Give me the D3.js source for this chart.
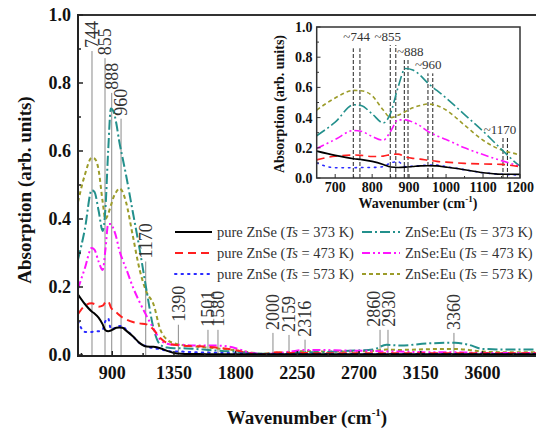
<!DOCTYPE html>
<html><head><meta charset="utf-8">
<script src="https://cdn.jsdelivr.net/npm/d3@7/dist/d3.min.js"></script>
<style>body{margin:0;background:#fff}svg{display:block}text{font-family:"Liberation Serif","DejaVu Serif",serif}</style>
</head><body><svg id="c" width="536" height="431"></svg>
<script>
// ---------------- DATA ----------------
const wavenumbers = [650,700,750,770,800,830,850,870,890,910,930,950,975,1000,1050,1100,1150,1200,1250,1300,1350,1400,1500,1600,1700,1800,1900,2000,2100,2200,2300,2400,2600,2800,2900,3000,3200,3400,3500,3600,3800,4000];
const pure373 = [0.178,0.150,0.128,0.122,0.110,0.090,0.073,0.070,0.072,0.076,0.080,0.081,0.080,0.072,0.055,0.035,0.025,0.024,0.020,0.012,0.006,0.004,0.003,0.002,0.002,0.002,0.002,0.002,0.002,0.002,0.002,0.002,0.002,0.002,0.002,0.002,0.002,0.002,0.002,0.002,0.002,0.002];
const pure473 = [0.120,0.145,0.152,0.150,0.142,0.145,0.155,0.158,0.140,0.130,0.125,0.118,0.110,0.105,0.097,0.093,0.090,0.075,0.050,0.035,0.030,0.028,0.026,0.024,0.020,0.014,0.005,0.002,0.008,0.006,0.006,0.005,0.005,0.005,0.005,0.005,0.005,0.005,0.005,0.005,0.005,0.005];
const pure573 = [0.100,0.068,0.068,0.070,0.070,0.075,0.100,0.108,0.075,0.078,0.082,0.085,0.085,0.075,0.055,0.035,0.025,0.020,0.017,0.012,0.010,0.010,0.008,0.007,0.006,0.005,0.004,0.003,0.003,0.003,0.003,0.003,0.003,0.003,0.003,0.003,0.003,0.003,0.003,0.003,0.003,0.003];
const eu373 = [0.280,0.370,0.485,0.480,0.425,0.365,0.430,0.600,0.725,0.715,0.680,0.630,0.580,0.530,0.420,0.310,0.190,0.080,0.030,0.022,0.020,0.020,0.018,0.015,0.012,0.010,0.006,0.004,0.005,0.006,0.008,0.008,0.012,0.016,0.030,0.028,0.034,0.036,0.030,0.018,0.016,0.016];
const eu473 = [0.195,0.255,0.315,0.310,0.275,0.250,0.310,0.385,0.385,0.370,0.345,0.310,0.280,0.255,0.200,0.155,0.115,0.078,0.045,0.033,0.030,0.030,0.028,0.028,0.027,0.020,0.007,0.003,0.005,0.010,0.015,0.015,0.013,0.012,0.010,0.010,0.008,0.008,0.007,0.006,0.006,0.006];
const eu573 = [0.450,0.530,0.580,0.578,0.545,0.450,0.400,0.415,0.440,0.465,0.480,0.490,0.480,0.450,0.350,0.250,0.185,0.150,0.075,0.045,0.035,0.030,0.025,0.022,0.018,0.014,0.008,0.004,0.006,0.008,0.012,0.010,0.010,0.012,0.016,0.015,0.017,0.018,0.015,0.010,0.008,0.008];

const seriesNames = ["pure ZnSe","pure ZnSe","pure ZnSe","ZnSe:Eu","ZnSe:Eu","ZnSe:Eu"];
const seriesTemps = ["373 K","473 K","573 K","373 K","473 K","573 K"];
const seriesValues = [pure373,pure473,pure573,eu373,eu473,eu573];

const yTicks = [0,0.2,0.4,0.6,0.8,1.0];
const yMinorTicks = [0.1,0.3,0.5,0.7,0.9];
const xTicksMain = [900,1350,1800,2250,2700,3150,3600];
const xMinorMain = [675,1125,1575,2025,2475,2925,3375,3825];
const xTicksInset = [700,800,900,1000,1100,1200];
const xMinorInset = [750,850,950,1050,1150];

// main-plot peak annotations (label, drawn position, top of marker line)
const peakLabels = ["744","855","888","960","1170","1390","1501","1580","2000","2159","2316","2860","2930","3360"];
const peakPos = [752,847,896,964,1144,1382,1598,1671,2072,2189,2306,2853,2911,3392];
const peakTop = [0.894,0.873,0.771,0.695,0.275,0.089,0.074,0.074,0.065,0.059,0.045,0.074,0.074,0.065];

// inset peak annotations
const insetLabels = ["~744","~855","~888","~960","~1170"];
const insetLabelPos = [758,842,903,952,1146];
const insetLabelY = [0.905,0.91,0.81,0.72,0.29];
const insetLines = [[749,767],[849,864],[887,897],[951,964],[1154,1166]];
const insetLineTop = [0.859,0.88,0.793,0.693,0.273];

// ---------------- STYLE ----------------
const colors = ["#000000","#ff1f1f","#2a2aff","#23908c","#ff14ff","#9c9c2a"];
const dashes = [null,"8,5","1.5,5","10,3,2,3","8,3,2,3,2,3","4,3"];
const labelShift = [0,0,0,0,0,0,0,0,0,0,0,-6,1,0];   // px nudge of crowded peak labels

const svg = d3.select("#c");
svg.append("rect").attr("width",536).attr("height",431).attr("fill","#fff");

// ---------------- MAIN PLOT ----------------
const x = d3.scaleLinear().domain([650,4000]).range([78,537.3]);
const y = d3.scaleLinear().domain([0,1]).range([355,15]);

const defs = svg.append("defs");
defs.append("clipPath").attr("id","mainclip").append("rect")
  .attr("x",78).attr("y",15).attr("width",470).attr("height",342);

const main = svg.append("g");
const gm = main.append("g").attr("clip-path","url(#mainclip)");

peakPos.forEach((p,i)=>{
  gm.append("line").attr("x1",x(p)).attr("x2",x(p)).attr("y1",y(0)).attr("y2",y(peakTop[i]))
    .attr("stroke","#8a8a8a").attr("stroke-width",1);
});

const line = (sx,sy)=>d3.line().x((d,i)=>sx(wavenumbers[i])).y(d=>sy(d)).curve(d3.curveMonotoneX);
const lm = line(x,y);
const drawOrder = [5,3,4,1,2,0];
drawOrder.forEach(k=>{
  gm.append("path").attr("d",lm(seriesValues[k])).attr("fill","none")
    .attr("stroke",colors[k]).attr("stroke-width",2)
    .attr("stroke-dasharray",dashes[k]).attr("stroke-linecap", k===2?"round":"butt");
});

peakPos.forEach((p,i)=>{
  const px = x(p) + labelShift[i], py = y(peakTop[i]) - 3;
  main.append("text").attr("transform",`translate(${px},${py}) rotate(-90)`)
    .attr("dy","0.35em").attr("font-size",18).attr("fill","#333")
    .text(peakLabels[i]);
});

main.append("line").attr("x1",78).attr("x2",540).attr("y1",15).attr("y2",15).attr("stroke","#333").attr("stroke-width",2);
main.append("line").attr("x1",78).attr("x2",78).attr("y1",14).attr("y2",357).attr("stroke","#222").attr("stroke-width",2);
main.append("line").attr("x1",77).attr("x2",540).attr("y1",356).attr("y2",356).attr("stroke","#222").attr("stroke-width",2);

yTicks.forEach(t=>{
  main.append("line").attr("x1",78).attr("x2",83).attr("y1",y(t)).attr("y2",y(t)).attr("stroke","#222").attr("stroke-width",1.5);
  main.append("text").attr("x",71).attr("y",y(t)).attr("dy","0.35em").attr("text-anchor","end")
    .attr("font-weight","bold").attr("font-size",18).attr("fill","#111")
    .text(d3.format(".1f")(t));
});
yMinorTicks.forEach(t=>{
  main.append("line").attr("x1",78).attr("x2",81).attr("y1",y(t)).attr("y2",y(t)).attr("stroke","#222").attr("stroke-width",1.5);
});
xTicksMain.forEach(t=>{
  main.append("line").attr("x1",x(t)).attr("x2",x(t)).attr("y1",356).attr("y2",351).attr("stroke","#222").attr("stroke-width",1.5);
  main.append("text").attr("x",x(t)).attr("y",379).attr("text-anchor","middle")
    .attr("font-weight","bold").attr("font-size",18).attr("fill","#111").text(t);
});
xMinorMain.forEach(t=>{
  main.append("line").attr("x1",x(t)).attr("x2",x(t)).attr("y1",356).attr("y2",353).attr("stroke","#222").attr("stroke-width",1.5);
});

const xt = main.append("text").attr("x",307).attr("y",424).attr("text-anchor","middle")
  .attr("font-weight","bold").attr("font-size",19).attr("fill","#111");
xt.append("tspan").text("Wavenumber (cm");
xt.append("tspan").attr("font-size",11).attr("dy",-8).text("-1");
xt.append("tspan").attr("dy",8).text(")");
main.append("text").attr("transform","translate(31,190) rotate(-90)").attr("text-anchor","middle")
  .attr("font-weight","bold").attr("font-size",19).attr("fill","#111")
  .text("Absorption (arb. units)");

const legX = [[175,212,217],[362,400,405]];
const legY = [232,253,274];
seriesValues.forEach((s,k)=>{
  const col = Math.floor(k/3), row = k%3;
  const [a,b,tx] = legX[col];
  main.append("line").attr("x1",a).attr("x2",b).attr("y1",legY[row]).attr("y2",legY[row])
    .attr("stroke",colors[k]).attr("stroke-width",2).attr("stroke-dasharray",dashes[k])
    .attr("stroke-linecap", k===2?"round":"butt");
  const t = main.append("text").attr("x",tx).attr("y",legY[row]).attr("dy","0.35em")
    .attr("font-size",14.5).attr("fill","#333");
  t.append("tspan").text(seriesNames[k]+" (");
  t.append("tspan").attr("font-style","italic").text("Ts");
  t.append("tspan").text(" = "+seriesTemps[k]+")");
});

// ---------------- INSET ----------------
const xi = d3.scaleLinear().domain([650,1200]).range([316.7,520]);
const yi = d3.scaleLinear().domain([0,1]).range([178,27]);
defs.append("clipPath").attr("id","insetclip").append("rect")
  .attr("x",316.7).attr("y",27).attr("width",203.3).attr("height",151);

const ins = svg.append("g");
ins.append("rect").attr("x",316.7).attr("y",27).attr("width",203.3).attr("height",151).attr("fill","#fff");
const gi = ins.append("g").attr("clip-path","url(#insetclip)");

insetLines.forEach((pair,i)=>{
  pair.forEach(p=>{
    gi.append("line").attr("x1",xi(p)).attr("x2",xi(p)).attr("y1",yi(0)).attr("y2",yi(insetLineTop[i]))
      .attr("stroke","#222").attr("stroke-width",1).attr("stroke-dasharray","4,2");
  });
});
const li = line(xi,yi);
drawOrder.forEach(k=>{
  gi.append("path").attr("d",li(seriesValues[k])).attr("fill","none")
    .attr("stroke",colors[k]).attr("stroke-width",1.6)
    .attr("stroke-dasharray",dashes[k]).attr("stroke-linecap", k===2?"round":"butt");
});
insetLabels.forEach((l,i)=>{
  ins.append("text").attr("x",xi(insetLabelPos[i])).attr("y",yi(insetLabelY[i])).attr("text-anchor","middle")
    .attr("font-size",13).attr("fill","#333").text(l);
});
ins.append("rect").attr("x",316.7).attr("y",27).attr("width",203.3).attr("height",151)
  .attr("fill","none").attr("stroke","#333").attr("stroke-width",1.5);

yTicks.forEach(t=>{
  ins.append("line").attr("x1",316.7).attr("x2",320.5).attr("y1",yi(t)).attr("y2",yi(t)).attr("stroke","#333");
  ins.append("text").attr("x",312.5).attr("y",yi(t)).attr("dy","0.35em").attr("text-anchor","end")
    .attr("font-weight","bold").attr("font-size",14).attr("fill","#111")
    .text(d3.format(".1f")(t));
});
yMinorTicks.forEach(t=>{
  ins.append("line").attr("x1",316.7).attr("x2",319).attr("y1",yi(t)).attr("y2",yi(t)).attr("stroke","#333");
});
xTicksInset.forEach(t=>{
  ins.append("line").attr("x1",xi(t)).attr("x2",xi(t)).attr("y1",178).attr("y2",174).attr("stroke","#333");
  ins.append("text").attr("x",xi(t)).attr("y",192).attr("text-anchor","middle")
    .attr("font-weight","bold").attr("font-size",14).attr("fill","#111").text(t);
});
xMinorInset.forEach(t=>{
  ins.append("line").attr("x1",xi(t)).attr("x2",xi(t)).attr("y1",178).attr("y2",176).attr("stroke","#333");
});
const xti = ins.append("text").attr("x",418).attr("y",208).attr("text-anchor","middle")
  .attr("font-weight","bold").attr("font-size",14).attr("fill","#111");
xti.append("tspan").text("Wavenumber (cm");
xti.append("tspan").attr("font-size",9).attr("dy",-6).text("-1");
xti.append("tspan").attr("dy",6).text(")");
ins.append("text").attr("transform","translate(284,104) rotate(-90)").attr("text-anchor","middle")
  .attr("font-weight","bold").attr("font-size",14).attr("fill","#111")
  .text("Absorption (arb. units)");
</script>
</body></html>
